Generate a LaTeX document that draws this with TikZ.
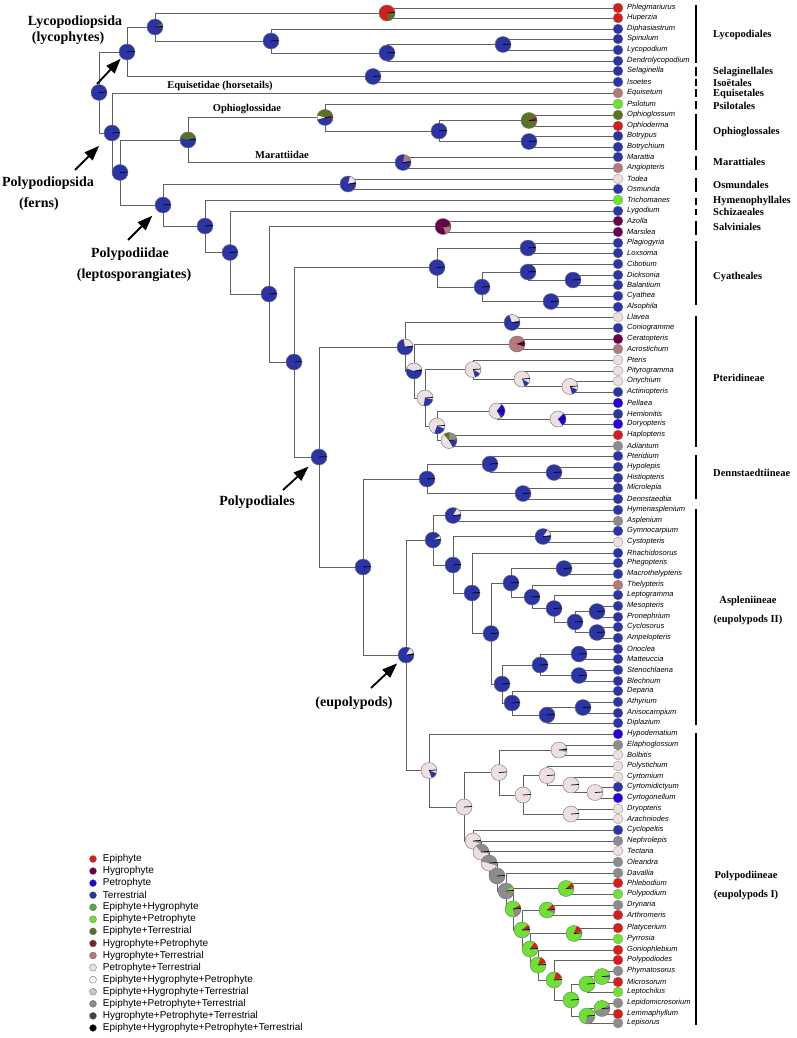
\documentclass[tikz,border=0pt]{standalone}
\usepackage{fontspec}
\setmainfont{Liberation Serif}
\setsansfont{Liberation Sans}
\usetikzlibrary{arrows.meta,positioning,backgrounds}

% habit colours
\definecolor{cE}{RGB}{215,28,30}
\definecolor{cH}{RGB}{105,0,80}
\definecolor{cP}{RGB}{35,0,220}
\definecolor{cT}{RGB}{42,52,165}
\definecolor{cEH}{RGB}{80,170,70}
\definecolor{cEP}{RGB}{110,225,50}
\definecolor{cET}{RGB}{88,115,35}
\definecolor{cHP}{RGB}{125,35,35}
\definecolor{cHT}{RGB}{180,122,122}
\definecolor{cPT}{RGB}{238,224,224}
\definecolor{cEHP}{RGB}{246,246,246}
\definecolor{cEHT}{RGB}{200,200,200}
\definecolor{cEPT}{RGB}{140,140,140}
\definecolor{cHPT}{RGB}{65,65,65}
\definecolor{cEHPT}{RGB}{0,0,0}

\begin{document}
\begin{tikzpicture}[
    x=1pt, y=-1pt,
    branch/.style={draw=black!62, line width=0.8pt},
    anc/.style={circle, draw=black!55, line width=0.4pt, minimum size=16pt, inner sep=0pt, fill=cT,
        path picture={\draw[black, line width=0.7pt] (path picture bounding box.center) -- ++(4:8pt);}},
    wedges/.style={path picture={
        \foreach \a/\b/\c in {#1}{\fill[\c] (path picture bounding box.center) -- ++(\a:8.5pt) arc[start angle=\a, end angle=\b, radius=8.5pt] -- cycle;}
        \draw[black, line width=0.7pt] (path picture bounding box.center) -- ++(4:8pt);}},
    leaf/.style={circle, draw=black!45, line width=0.3pt, minimum size=10pt, inner sep=0pt},
    taxon/.style={anchor=west, inner sep=0pt, font=\sffamily\itshape\fontsize{7.5}{8}\selectfont},
    cladebar/.style={fill=black, inner sep=0pt, minimum width=2pt},
    order/.style={anchor=west, inner sep=0pt, font=\bfseries\fontsize{10.5}{12}\selectfont},
    bigclade/.style={inner sep=0pt, font=\bfseries\fontsize{14}{16}\selectfont},
    subclass/.style={inner sep=0pt, font=\bfseries\fontsize{10.5}{12}\selectfont},
    bigarrow/.style={-{Triangle[length=15pt,width=11pt]}, line width=1.8pt},
    legdot/.style={circle, draw=black!60, line width=0.3pt, minimum size=7pt, inner sep=0pt},
    legtext/.style={anchor=west, inner sep=0pt, font=\sffamily\fontsize{10}{12}\selectfont}
]
\useasboundingbox (0,0) rectangle (797,1038);

% tips
\foreach \nm/\y/\col in {Phlegmariurus/8/cE, Huperzia/18/cE, Diphasiastrum/29/cT, Spinulum/39/cT,
    Lycopodium/50/cT, Dendrolycopodium/61/cT, Selaginella/71/cT, Isoetes/82/cT, Equisetum/93/cHT,
    Psilotum/104/cEP, Ophioglossum/115/cET, Ophioderma/126/cE, Botrypus/136/cT, Botrychium/147/cT,
    Marattia/157/cT, Angiopteris/168/cHT, Todea/179/cPT, Osmunda/189/cT, Trichomanes/200/cEP,
    Lygodium/211/cT, Azolla/221/cH, Marsilea/232/cH, Plagiogyria/243/cT, Loxsoma/253/cT,
    Cibotium/264/cT, Dicksonia/275/cT, Balantium/285/cT, Cyathea/296/cT, Alsophila/307/cT,
    Llavea/317/cPT, Coniogramme/328/cT, Ceratopteris/339/cH, Acrostichum/349/cHT, Pteris/360/cPT,
    Pityrogramma/371/cPT, Onychium/381/cPT, Actiniopteris/392/cT, Pellaea/403/cP, Hemionitis/414/cT,
    Doryopteris/424/cP, Haplopteris/435/cE, Adiantum/446/cEPT, Pteridium/456/cT, Hypolepis/467/cT,
    Histiopteris/478/cT, Microlepia/488/cT, Dennstaedtia/499/cT, Hymenasplenium/510/cT,
    Asplenium/521/cEPT, Gymnocarpium/531/cT, Cystopteris/542/cPT, Rhachidosorus/553/cT,
    Phegopteris/563/cT, Macrothelypteris/574/cT, Thelypteris/585/cHT, Leptogramma/595/cT,
    Mesopteris/606/cT, Pronephrium/617/cT, Cyclosorus/627/cT, Ampelopteris/638/cT, Onoclea/649/cT,
    Matteuccia/659/cT, Stenochlaena/670/cT, Blechnum/681/cT, Deparia/691/cT, Athyrium/702/cT,
    Anisocampium/713/cT, Diplazium/723/cT, Hypodematium/734/cP, Elaphoglossum/745/cEPT,
    Bolbitis/755/cPT, Polystichum/766/cPT, Cyrtomium/777/cPT, Cyrtomidictyum/787/cT,
    Cyrtogonellum/798/cP, Dryopteris/809/cPT, Arachniodes/819/cPT, Cyclopeltis/830/cT,
    Nephrolepis/841/cEPT, Tectaria/851/cPT, Oleandra/862/cEPT, Davallia/873/cEPT, Phlebodium/883/cE,
    Polypodium/894/cEP, Drynaria/905/cEPT, Arthromeris/915/cE, Platycerium/928/cE, Pyrrosia/939/cEP,
    Goniophlebium/950/cE, Polypodiodes/960/cE, Phymatosorus/971/cEPT, Microsorum/982/cE,
    Leptochilus/992/cEP, Lepidomicrosorium/1003/cEPT, Lemmaphyllum/1014/cE, Lepisorus/1023/cEPT}{
  \node[leaf, fill=\col] (\nm) at (618,\y) {};
  \node[taxon] at (627,\y) {\nm};
}

% lycophytes
\node[anc] (root) at (99,92.5) {};
\node[anc] (lyco) at (127,52) {};
\node[anc, wedges={3/28/cET}] (lycA) at (155,27) {};
\node[anc, fill=cE, wedges={-80/5/cET}] (huper) at (387,13) {};
\node[anc] (lycB) at (271,41) {};
\node[anc] (lycC) at (387,53) {};
\node[anc] (lycD) at (503,44.5) {};
\node[anc] (selis) at (373,76.5) {};
% ferns
\node[anc] (fern) at (112,133) {};
\node[anc] (fernA) at (120,172.5) {};
\node[anc, wedges={20/165/cET}] (ophmar) at (188,140) {};
\node[anc, wedges={15/165/cET,165/195/cEHP,-12/12/cE}] (ophps) at (325,117.5) {};
\node[anc] (ophB) at (439,131) {};
\node[anc, fill=cET, wedges={-5/30/cE,8/16/cT}] (ophC) at (529,120.5) {};
\node[anc] (botr) at (529,141.5) {};
\node[anc, wedges={15/80/cHT}] (marat) at (403,162.5) {};
\node[anc] (lepto) at (163,205) {};
\node[anc, wedges={15/75/cPT}] (osmun) at (348,184) {};
\node[anc] (lepA) at (205,226) {};
\node[anc] (lepB) at (230,252.5) {};
\node[anc] (lepC) at (269,294) {};
\node[anc, fill=cH, wedges={-70/10/cHT}] (salv) at (443,226.5) {};
\node[anc] (lepD) at (294,362) {};
% Cyatheales
\node[anc] (cyat) at (437,267.5) {};
\node[anc] (cyatA) at (528,248) {};
\node[anc] (cyatB) at (482,287) {};
\node[anc] (cyatC) at (528,272) {};
\node[anc] (cyatD) at (573,280) {};
\node[anc] (cyatE) at (551,301.5) {};
% Pteridineae
\node[anc] (polyp) at (319,457) {};
\node[anc, wedges={10/100/cPT}] (pter) at (405,347) {};
\node[anc, wedges={15/110/cPT}] (pterA) at (512,322.5) {};
\node[anc, wedges={15/160/cPT}] (pterB) at (414,371) {};
\node[anc, fill=cHT, wedges={-20/25/cH,5/12/cHP}] (pterC) at (517,344) {};
\node[anc, fill=cPT, wedges={-100/-10/cT}] (pterD) at (425,398) {};
\node[anc, fill=cPT, wedges={-75/-30/cT}] (pterE) at (473,369.5) {};
\node[anc, fill=cPT, wedges={-70/-30/cT}] (pterF) at (522,379) {};
\node[anc, fill=cPT, wedges={-75/-25/cT}] (pterG) at (570,386.5) {};
\node[anc, fill=cPT, wedges={-110/-20/cT}] (pterH) at (437,426) {};
\node[anc, fill=cPT, wedges={-45/55/cP,-60/-45/cT}] (pterI) at (497,411) {};
\node[anc, fill=cPT, wedges={-55/45/cP}] (pterJ) at (558,419) {};
\node[anc, fill=cPT, wedges={0/90/cEPT,90/130/cET,-60/0/cT}] (pterK) at (449,440.5) {};
% Dennstaedtiineae
\node[anc] (dennA) at (363,567) {};
\node[anc] (denn) at (427,479) {};
\node[anc] (dennB) at (490,464) {};
\node[anc] (dennC) at (554,472.5) {};
\node[anc] (dennD) at (523,493.5) {};
% eupolypods II
\node[anc, wedges={15/60/cPT}] (eupol) at (406,655) {};
\node[anc, wedges={5/30/cPT}] (asp) at (433,540) {};
\node[anc, wedges={10/60/cPT}] (aspA) at (453,515.5) {};
\node[anc] (aspB) at (453,565) {};
\node[anc, wedges={10/55/cPT}] (aspC) at (543,536.5) {};
\node[anc] (aspD) at (472,593) {};
\node[anc] (aspE) at (491,633.5) {};
\node[anc] (aspF) at (511,583) {};
\node[anc] (aspG) at (564,568.5) {};
\node[anc] (aspH) at (532,597) {};
\node[anc] (aspI) at (554,608.5) {};
\node[anc] (aspJ) at (575,622) {};
\node[anc] (aspK) at (597,611.5) {};
\node[anc] (aspL) at (597,632.5) {};
\node[anc] (aspM) at (502,684) {};
\node[anc] (aspN) at (540,665) {};
\node[anc] (aspO) at (579,654) {};
\node[anc] (aspP) at (579,675.5) {};
\node[anc] (aspQ) at (512,703) {};
\node[anc] (aspR) at (547,715) {};
\node[anc] (aspS) at (583,707.5) {};
% eupolypods I
\node[anc, fill=cPT, wedges={-70/-20/cT}] (pol) at (429,770.5) {};
\node[anc, fill=cPT] (polA) at (464,807) {};
\node[anc, fill=cPT] (dryA) at (499,772.5) {};
\node[anc, fill=cPT, wedges={-15/15/cEPT}] (dryB) at (559,750) {};
\node[anc, fill=cPT] (dryC) at (523,795) {};
\node[anc, fill=cPT] (dryD) at (547,775.5) {};
\node[anc, fill=cPT] (dryE) at (571,785) {};
\node[anc, fill=cPT] (dryF) at (595,792.5) {};
\node[anc, fill=cPT] (dryG) at (571,814) {};
\node[anc, fill=cPT, wedges={-20/10/cEPT}] (ladA) at (473,841) {};
\node[anc, fill=cPT, wedges={-10/130/cEPT}] (ladB) at (481,852) {};
\node[anc, fill=cPT, wedges={-20/170/cEPT}] (ladC) at (489,863) {};
\node[anc, fill=cEPT] (ladD) at (497,876) {};
\node[anc, fill=cEPT, wedges={-5/35/cEP}] (ladE) at (506,891) {};
\node[anc, fill=cEP, wedges={-80/-5/cEPT,5/30/cE}] (ladF) at (513,909) {};
\node[anc, fill=cEP, wedges={-15/10/cEPT,10/40/cE}] (ladG) at (522,930) {};
\node[anc, fill=cEP, wedges={10/55/cE}] (ladH) at (530,949) {};
\node[anc, fill=cEP, wedges={15/70/cE}] (ladI) at (538,965) {};
\node[anc, fill=cEP, wedges={15/75/cE}] (ladJ) at (554,980) {};
\node[anc, fill=cEP] (ladK) at (571,1000) {};
\node[anc, fill=cEP, wedges={10/45/cE}] (phleb) at (566,888.5) {};
\node[anc, fill=cEP, wedges={-25/10/cEPT,10/45/cE}] (dryn) at (547,910) {};
\node[anc, fill=cEP, wedges={15/70/cE}] (platy) at (574,933.5) {};
\node[anc, fill=cEP] (micA) at (587,984) {};
\node[anc, fill=cEP, wedges={-15/10/cEPT}] (micB) at (602,976.5) {};
\node[anc, fill=cEP, wedges={-100/-10/cEPT}] (lepiA) at (587,1016) {};
\node[anc, fill=cEPT, wedges={30/200/cEP}] (lepiB) at (602,1008.5) {};

% clade names on the tree
\node[bigclade] (lycoLab) at (75,22) {Lycopodiopsida};
\node[bigclade] (lycoLabB) at (68,38) {(lycophytes)};
\node[bigclade] (fernLab) at (48,183) {Polypodiopsida};
\node[bigclade] (fernLabB) at (39,204) {(ferns)};
\node[bigclade] (leptoLab) at (130,254) {Polypodiidae};
\node[bigclade] (leptoLabB) at (134,275) {(leptosporangiates)};
\node[bigclade] (polypLab) at (257,502) {Polypodiales};
\node[bigclade] (eupolLab) at (354,703) {(eupolypods)};
\node[subclass] (equiLab) at (220,86) {Equisetidae (horsetails)};
\node[subclass] (ophLab) at (247,109) {Ophioglossidae};
\node[subclass] (maratLab) at (282,155) {Marattiidae};

% arrows
\coordinate (aLyco) at (97,84);
\coordinate (aFern) at (75,170);
\coordinate (aLepto) at (128,240);
\coordinate (aPolyp) at (283,490);
\coordinate (aEupol) at (371,688);
\draw[bigarrow, shorten >=1pt] (aLyco) -- (lyco);
\draw[bigarrow, shorten >=10pt] (aFern) -- (fern);
\draw[bigarrow, shorten >=7pt] (aLepto) -- (lepto);
\draw[bigarrow, shorten >=6pt] (aPolyp) -- (polyp);
\draw[bigarrow, shorten >=4pt] (aEupol) -- (eupol);

% orders
\foreach \nm/\ta/\tb/\ly/\lab in {barLyco/5/63/35/Lycopodiales, barSela/67/76/72/Selaginellales,
    barIsoe/79/86/83/Isoëtales, barEqui/89/97/94/Equisetales, barPsil/101/109/106/Psilotales,
    barOphi/114/150/132/Ophioglossales, barMara/156/170/162/Marattiales, barOsmu/178/192/185/Osmundales,
    barHyme/198/205/201/Hymenophyllales, barSchi/209/215/212/Schizaeales, barSalv/221/235/227/Salviniales,
    barCyat/241/305/277/Cyatheales, barPter/316/447/378/Pteridineae, barDenn/455/499/473/Dennstaedtiineae}{
  \node[cladebar, minimum height={(\tb-\ta)*1pt}] (\nm) at (696,{(\ta+\tb)/2}) {};
  \node[order] at (713,\ly) {\lab};
}
\node[cladebar, minimum height=216pt] (barAspl) at (696,617) {};
\node[subclass] (asplLab) at (748,601) {Aspleniineae};
\node[subclass] (asplLabB) at (748,620) {(eupolypods II)};
\node[cladebar, minimum height=292pt] (barPoly) at (696,879) {};
\node[subclass] (polyLab) at (746,876) {Polypodiineae};
\node[subclass] (polyLabB) at (746,895) {(eupolypods I)};

% legend
\foreach \col/\lab [count=\i] in {cE/Epiphyte, cH/Hygrophyte, cP/Petrophyte, cT/Terrestrial,
    cEH/Epiphyte+Hygrophyte, cEP/Epiphyte+Petrophyte, cET/Epiphyte+Terrestrial,
    cHP/Hygrophyte+Petrophyte, cHT/Hygrophyte+Terrestrial, cPT/Petrophyte+Terrestrial,
    cEHP/Epiphyte+Hygrophyte+Petrophyte, cEHT/Epiphyte+Hygrophyte+Terrestrial,
    cEPT/Epiphyte+Petrophyte+Terrestrial, cHPT/Hygrophyte+Petrophyte+Terrestrial,
    cEHPT/Epiphyte+Hygrophyte+Petrophyte+Terrestrial}{
  \node[legdot, fill=\col] (leg\i) at (93,{846.9+12.07*\i}) {};
  \node[legtext, right=6pt of leg\i] {\lab};
}

% branches
\begin{scope}[on background layer]
\fill[white] (0,0) rectangle (797,1038);
\foreach \p/\c in {root/lyco, root/fern, lyco/lycA, lyco/selis, lycA/huper, lycA/lycB,
    huper/Phlegmariurus, huper/Huperzia, lycB/Diphasiastrum, lycB/lycC, lycC/lycD, lycC/Dendrolycopodium,
    lycD/Spinulum, lycD/Lycopodium, selis/Selaginella, selis/Isoetes,
    fern/Equisetum, fern/fernA, fernA/ophmar, fernA/lepto, ophmar/ophps, ophmar/marat,
    ophps/Psilotum, ophps/ophB, ophB/ophC, ophB/botr, ophC/Ophioglossum, ophC/Ophioderma,
    botr/Botrypus, botr/Botrychium, marat/Marattia, marat/Angiopteris,
    lepto/osmun, lepto/lepA, osmun/Todea, osmun/Osmunda, lepA/Trichomanes, lepA/lepB,
    lepB/Lygodium, lepB/lepC, lepC/salv, lepC/lepD, salv/Azolla, salv/Marsilea,
    lepD/cyat, lepD/polyp, cyat/cyatA, cyat/cyatB, cyatA/Plagiogyria, cyatA/Loxsoma,
    cyatB/cyatC, cyatB/cyatE, cyatC/Cibotium, cyatC/cyatD, cyatD/Dicksonia, cyatD/Balantium,
    cyatE/Cyathea, cyatE/Alsophila,
    polyp/pter, polyp/dennA, pter/pterA, pter/pterB, pterA/Llavea, pterA/Coniogramme,
    pterB/pterC, pterB/pterD, pterC/Ceratopteris, pterC/Acrostichum, pterD/pterE, pterD/pterH,
    pterE/Pteris, pterE/pterF, pterF/Pityrogramma, pterF/pterG, pterG/Onychium, pterG/Actiniopteris,
    pterH/pterI, pterH/pterK, pterI/Pellaea, pterI/pterJ, pterJ/Hemionitis, pterJ/Doryopteris,
    pterK/Haplopteris, pterK/Adiantum,
    dennA/denn, dennA/eupol, denn/dennB, denn/dennD, dennB/Pteridium, dennB/dennC,
    dennC/Hypolepis, dennC/Histiopteris, dennD/Microlepia, dennD/Dennstaedtia,
    eupol/asp, eupol/pol, asp/aspA, asp/aspB, aspA/Hymenasplenium, aspA/Asplenium,
    aspB/aspC, aspB/aspD, aspC/Gymnocarpium, aspC/Cystopteris, aspD/Rhachidosorus, aspD/aspE,
    aspE/aspF, aspE/aspM, aspF/aspG, aspF/aspH, aspG/Phegopteris, aspG/Macrothelypteris,
    aspH/Thelypteris, aspH/aspI, aspI/Leptogramma, aspI/aspJ, aspJ/aspK, aspJ/aspL,
    aspK/Mesopteris, aspK/Pronephrium, aspL/Cyclosorus, aspL/Ampelopteris,
    aspM/aspN, aspM/aspQ, aspN/aspO, aspN/aspP, aspO/Onoclea, aspO/Matteuccia,
    aspP/Stenochlaena, aspP/Blechnum, aspQ/Deparia, aspQ/aspR, aspR/aspS, aspR/Diplazium,
    aspS/Athyrium, aspS/Anisocampium,
    pol/Hypodematium, pol/polA, polA/dryA, polA/ladA, dryA/dryB, dryA/dryC,
    dryB/Elaphoglossum, dryB/Bolbitis, dryC/dryD, dryC/dryG, dryD/Polystichum, dryD/dryE,
    dryE/Cyrtomium, dryE/dryF, dryF/Cyrtomidictyum, dryF/Cyrtogonellum, dryG/Dryopteris, dryG/Arachniodes,
    ladA/Cyclopeltis, ladA/ladB, ladB/Nephrolepis, ladB/ladC, ladC/Tectaria, ladC/ladD,
    ladD/Oleandra, ladD/ladE, ladE/Davallia, ladE/ladF, ladF/phleb, ladF/ladG,
    phleb/Phlebodium, phleb/Polypodium, ladG/dryn, ladG/ladH, dryn/Drynaria, dryn/Arthromeris,
    ladH/platy, ladH/ladI, platy/Platycerium, platy/Pyrrosia, ladI/Goniophlebium, ladI/ladJ,
    ladJ/Polypodiodes, ladJ/ladK, ladK/micA, ladK/lepiA, micA/micB, micA/Leptochilus,
    micB/Phymatosorus, micB/Microsorum, lepiA/lepiB, lepiA/Lepisorus,
    lepiB/Lepidomicrosorium, lepiB/Lemmaphyllum}{
  \draw[branch] (\p.center) |- (\c.center);
}
\end{scope}
\end{tikzpicture}
\end{document}
